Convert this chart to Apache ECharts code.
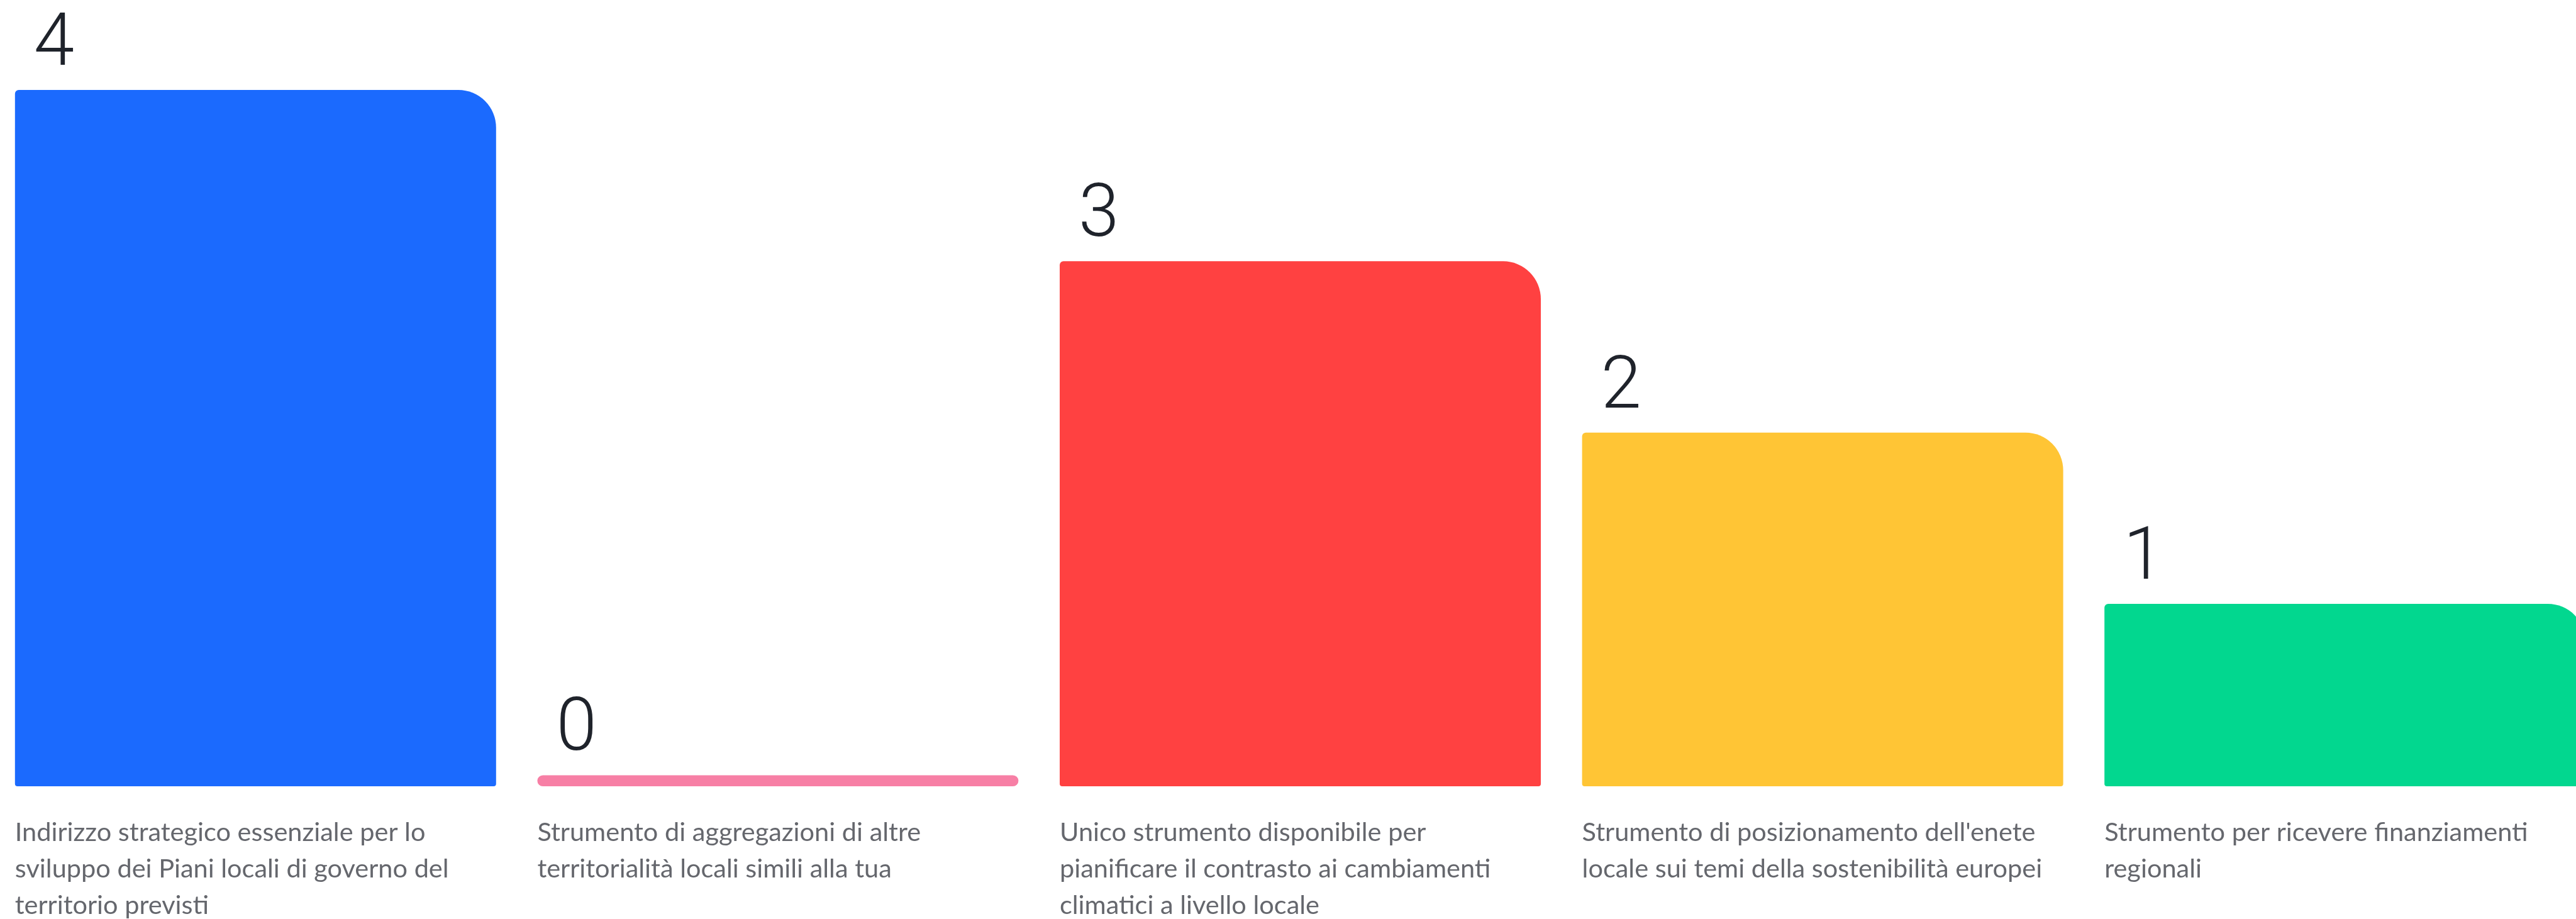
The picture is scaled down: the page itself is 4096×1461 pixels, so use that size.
<!DOCTYPE html>
<html>
<head>
<meta charset="utf-8">
<script src="https://cdn.jsdelivr.net/npm/echarts@6/dist/echarts.min.js"></script>
<style>
html,body{margin:0;padding:0;background:#fff;}
#chart{width:4096px;height:1461px;}
</style>
</head>
<body>
<div id="chart"></div>
<script>
const categories = [
  'Indirizzo strategico essenziale per lo sviluppo dei Piani locali di governo del territorio previsti',
  'Strumento di aggregazioni di altre territorialità locali simili alla tua',
  'Unico strumento disponibile per pianificare il contrasto ai cambiamenti climatici a livello locale',
  "Strumento di posizionamento dell'enete locale sui temi della sostenibilità europei",
  'Strumento per ricevere finanziamenti regionali'
];
const values = [4, 0, 3, 2, 1];
const palette = ['#1B6AFE', '#F77FA5', '#FF4141', '#FFC535', '#02D78F'];

const barW = 765;
const axisBase = -0.0646;

const chart = echarts.init(document.getElementById('chart'), null, {renderer: 'canvas'});
chart.setOption({
  animation: false,
  backgroundColor: '#ffffff',
  grid: {left: -9, width: 4153, top: 143, bottom: 211, containLabel: false, outerBoundsMode: 'none'},
  xAxis: {
    type: 'category',
    data: categories,
    axisLine: {show: false},
    axisTick: {show: false},
    axisLabel: {
      interval: 0,
      margin: 45,
      width: barW,
      overflow: 'break',
      formatter: function (v) { return '{t|' + v + '}'; },
      rich: {
        t: {
          align: 'left',
          fontFamily: 'Lato',
          fontSize: 41.5,
          lineHeight: 58,
          color: '#65676d'
        }
      }
    }
  },
  yAxis: {
    type: 'value',
    min: axisBase,
    max: 4,
    startValue: axisBase,
    show: false,
    splitLine: {show: false}
  },
  series: [{
    type: 'bar',
    barWidth: barW,
    data: values.map(function (v, i) {
      return {
        value: v,
        itemStyle: {
          color: palette[i],
          borderRadius: v === 0 ? [9, 9, 9, 9] : [6, 60, 4, 4]
        }
      };
    }),
    label: {
      show: true,
      position: [30, -69],
      align: 'left',
      verticalAlign: 'middle',
      fontFamily: 'Roboto',
      fontWeight: 300,
      fontSize: 116,
      lineHeight: 116,
      color: '#1f232b'
    }
  }]
});
</script>
</body>
</html>
